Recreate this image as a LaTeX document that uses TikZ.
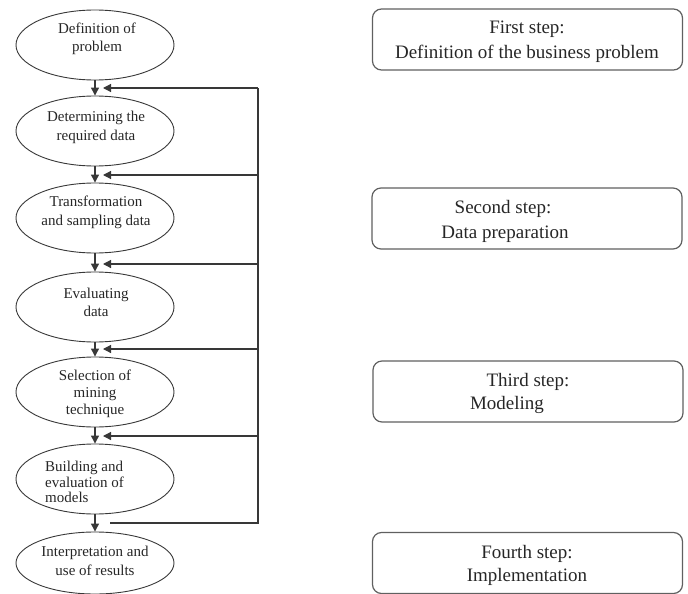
\documentclass[tikz,border=0pt]{standalone}
\usepackage{fontspec}
\setmainfont{Liberation Serif}
\usetikzlibrary{shapes.geometric,arrows.meta}
\definecolor{ln}{gray}{0.22}
\tikzset{
  stage/.style={ellipse,draw=ln,line width=0.9pt,minimum width=158pt,minimum height=70pt,inner sep=0pt},
  etext/.style={align=center,font=\fontsize{15}{18.5}\selectfont,inner sep=0pt,text=black!85},
  stepbox/.style={draw=ln!80,line width=1.2pt,rounded corners=9pt,minimum width=310pt,minimum height=61pt,inner sep=0pt},
  btext/.style={font=\fontsize{19}{24}\selectfont,inner sep=0pt,anchor=base,text=black!85},
  flow/.style={line width=1.2pt,draw=ln,-{Triangle[length=8pt,width=8pt]}},
  back/.style={line width=1.2pt,draw=ln}
}
\begin{document}
\begin{tikzpicture}[x=1pt,y=-1pt]
\useasboundingbox (0,0) rectangle (688,594);
% stages
\node[stage] (e1) at (95,45) {};
\node[stage] (e2) at (95,131) {};
\node[stage] (e3) at (95,218) {};
\node[stage] (e4) at (95,307) {};
\node[stage] (e5) at (95,392) {};
\node[stage] (e6) at (95,479) {};
\node[stage,minimum height=62pt] (e7) at (95,563) {};
% stage texts
\node[etext] (t1) at (97,39) {Definition of\\problem};
\node[etext] (t2) at (96,127.5) {Determining the\\required data};
\node[etext] (t3) at (96,212.5) {Transformation\\and sampling data};
\node[etext] (t4) at (96,302.5) {Evaluating\\data};
\node[etext,font=\fontsize{15}{16.8}\selectfont] (t5) at (95,394) {Selection of\\mining\\technique};
\node[etext,align=left,anchor=west,font=\fontsize{15}{15.8}\selectfont] (t6) at (45,482) {Building and\\evaluation of\\models};
\node[etext] (t7) at (95,561) {Interpretation and\\use of results};
% forward arrows
\draw[flow] (e1.south) -- (e2.north);
\draw[flow] (e2.south) -- (e3.north);
\draw[flow] (e3.south) -- (e4.north);
\draw[flow] (e4.south) -- (e5.north);
\draw[flow] (e5.south) -- (e6.north);
\draw[flow] (e6.south) -- (e7.north);
% feedback loop
\coordinate (s6) at (110,523);
\coordinate (c6) at (258,523);
\coordinate (c1) at (258,88);
\coordinate (c2) at (258,175);
\coordinate (c3) at (258,264);
\coordinate (c4) at (258,349);
\coordinate (c5) at (258,436);
\coordinate (a1) at (103,88);
\coordinate (a2) at (103,175);
\coordinate (a3) at (103,264);
\coordinate (a4) at (103,349);
\coordinate (a5) at (103,436);
\draw[back] (s6) -- (c6) -- (c1);
\draw[flow] (c1) -- (a1);
\draw[flow] (c2) -- (a2);
\draw[flow] (c3) -- (a3);
\draw[flow] (c4) -- (a4);
\draw[flow] (c5) -- (a5);
% step boxes
\node[stepbox] (b1) at (527.5,39.5) {};
\node[stepbox] (b2) at (527,218.5) {};
\node[stepbox] (b3) at (528,391.5) {};
\node[stepbox] (b4) at (527.5,563) {};
\node[btext] (b1a) at (527,34) {First step:};
\node[btext] (b1b) at (527,59) {Definition of the business problem};
\node[btext] (b2a) at (503,213) {Second step:};
\node[btext] (b2b) at (505,238) {Data preparation};
\node[btext] (b3a) at (528,386) {Third step:};
\node[btext] (b3b) at (507,409) {Modeling};
\node[btext] (b4a) at (527,558) {Fourth step:};
\node[btext] (b4b) at (527,581) {Implementation};
\end{tikzpicture}
\end{document}
